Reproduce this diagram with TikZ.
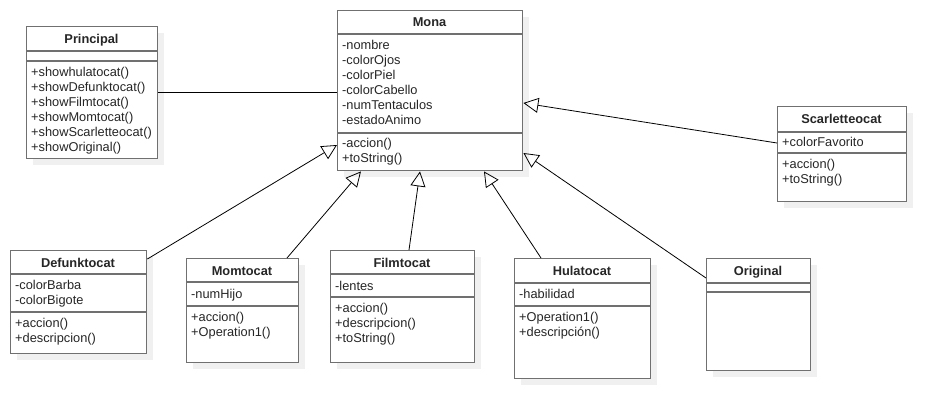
\documentclass[tikz,border=0pt]{standalone}
\usepackage{fontspec}
\setmainfont{Liberation Sans}
\usetikzlibrary{calc}
\usetikzlibrary{arrows.meta}
\usetikzlibrary{shadows}

\definecolor{boxgray}{RGB}{112,112,112}

\tikzset{
	classbox/.style={draw=boxgray, line width=1.4pt, fill=white, anchor=north west, inner sep=0pt,
		drop shadow={shadow xshift=6pt, shadow yshift=-6pt, fill=black!6, opacity=1}},
	divider/.style={draw=boxgray, line width=1.4pt},
	classtitle/.style={anchor=base, inner sep=0pt, yshift=-4.5pt, font=\fontsize{12.8}{15}\selectfont\bfseries, text=black!85},
	member/.style={anchor=base west, inner sep=0pt, yshift=-4.5pt, font=\fontsize{12.8}{15}\selectfont, text=black!85},
	assoc/.style={draw=black, line width=0.8pt},
	inherit/.style={draw=black, line width=0.8pt, -{Triangle[open, length=15pt, width=15pt, line width=0.8pt]}}
}

\begin{document}
\begin{tikzpicture}[x=1pt, y=-1pt]

	\useasboundingbox[fill=white] (0,0) rectangle (946,418);

	%Principal
	\node[classbox, minimum width=131pt, minimum height=132pt] (principal) at (26,26) {};
	\draw[divider] (26,51) -- (157,51);
	\draw[divider] (26,61) -- (157,61);
	\node[classtitle] (principal-t) at (91.5,38.5) {Principal};
	\foreach \m [count=\i] in {+showhulatocat(), +showDefunktocat(), +showFilmtocat(), +showMomtocat(), +showScarletteocat(), +showOriginal()}
		\node[member] (principal-m\i) at (31,57+15*\i) {\m};

	%Mona
	\node[classbox, minimum width=185pt, minimum height=160pt] (mona) at (337,10) {};
	\draw[divider] (337,34) -- (522,34);
	\draw[divider] (337,133) -- (522,133);
	\node[classtitle] (mona-t) at (429.5,22) {Mona};
	\foreach \a [count=\i] in {-nombre, -colorOjos, -colorPiel, -colorCabello, -numTentaculos, -estadoAnimo}
		\node[member] (mona-a\i) at (342,30+15*\i) {\a};
	\foreach \m [count=\i] in {-accion(), +toString()}
		\node[member] (mona-m\i) at (342,128+15*\i) {\m};

	%Scarletteocat
	\node[classbox, minimum width=129pt, minimum height=95pt] (scarlette) at (777,106) {};
	\draw[divider] (777,132) -- (906,132);
	\draw[divider] (777,153) -- (906,153);
	\node[classtitle] (scarlette-t) at (841.5,118.5) {Scarletteocat};
	\node[member] (scarlette-a1) at (782,142) {+colorFavorito};
	\foreach \m [count=\i] in {+accion(), +toString()}
		\node[member] (scarlette-m\i) at (782,149+15*\i) {\m};

	%Defunktocat
	\node[classbox, minimum width=136pt, minimum height=103pt] (defunk) at (10,250) {};
	\draw[divider] (10,274) -- (146,274);
	\draw[divider] (10,312) -- (146,312);
	\node[classtitle] (defunk-t) at (78,263) {Defunktocat};
	\foreach \a [count=\i] in {-colorBarba, -colorBigote}
		\node[member] (defunk-a\i) at (15,270+15*\i) {\a};
	\foreach \m [count=\i] in {+accion(), +descripcion()}
		\node[member] (defunk-m\i) at (15,308+15*\i) {\m};

	%Momtocat
	\node[classbox, minimum width=112pt, minimum height=104pt] (momto) at (186,258) {};
	\draw[divider] (186,282) -- (298,282);
	\draw[divider] (186,306) -- (298,306);
	\node[classtitle] (momto-t) at (242,271) {Momtocat};
	\node[member] (momto-a1) at (191,293.5) {-numHijo};
	\foreach \m [count=\i] in {+accion(), +Operation1()}
		\node[member] (momto-m\i) at (191,302+15*\i) {\m};

	%Filmtocat
	\node[classbox, minimum width=144pt, minimum height=112pt] (filmto) at (330,250) {};
	\draw[divider] (330,274) -- (474,274);
	\draw[divider] (330,297) -- (474,297);
	\node[classtitle] (filmto-t) at (402,263) {Filmtocat};
	\node[member] (filmto-a1) at (335,285.5) {-lentes};
	\foreach \m [count=\i] in {+accion(), +descripcion(), +toString()}
		\node[member] (filmto-m\i) at (335,293+15*\i) {\m};

	%Hulatocat
	\node[classbox, minimum width=136pt, minimum height=120pt] (hulato) at (514,258) {};
	\draw[divider] (514,283) -- (650,283);
	\draw[divider] (514,306) -- (650,306);
	\node[classtitle] (hulato-t) at (582,271) {Hulatocat};
	\node[member] (hulato-a1) at (519,293.5) {-habilidad};
	\foreach \m [count=\i] in {+Operation1(), +descripción()}
		\node[member] (hulato-m\i) at (519,302+15*\i) {\m};

	%Original
	\node[classbox, minimum width=104pt, minimum height=112pt] (original) at (706,258) {};
	\draw[divider] (706,283) -- (810,283);
	\draw[divider] (706,292) -- (810,292);
	\node[classtitle] (original-t) at (758,271) {Original};

	%Relations
	\draw[assoc] ($(principal.north east)+(0,66)$) -- ($(mona.north west)+(0,82)$);
	\draw[inherit] ($(defunk.north east)+(0,9)$) -- ($(mona.north west)+(0,135)$);
	\draw[inherit] ($(momto.north west)+(101,0)$) -- ($(mona.south west)+(24,0)$);
	\draw[inherit] ($(filmto.north west)+(79,0)$) -- ($(mona.south west)+(83,0)$);
	\draw[inherit] ($(hulato.north west)+(27,0)$) -- ($(mona.south west)+(147,0)$);
	\draw[inherit] ($(original.north west)+(0,20)$) -- ($(mona.north east)+(0,143)$);
	\draw[inherit] ($(scarlette.north west)+(0,37)$) -- ($(mona.north east)+(0,93)$);

\end{tikzpicture}
\end{document}
